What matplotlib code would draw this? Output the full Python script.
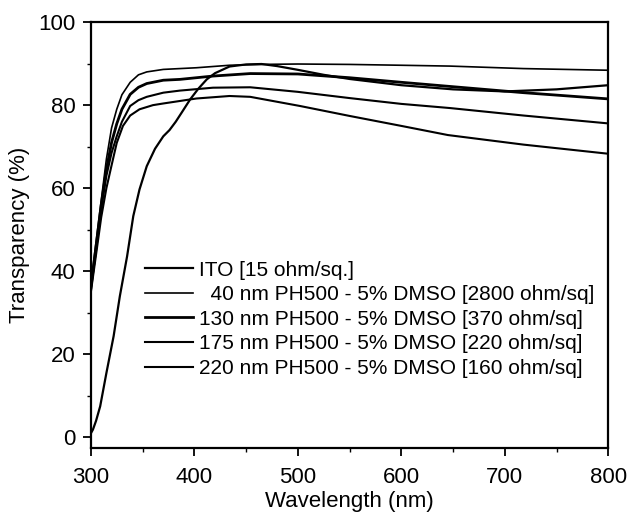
import matplotlib
matplotlib.use("Agg")
import matplotlib.pyplot as plt
from matplotlib.ticker import MultipleLocator

plt.rcParams['font.family'] = ['Liberation Sans', 'DejaVu Sans']

# values
wl_ito = [300, 302, 305, 309, 315, 322, 328, 335, 341, 347, 354, 362, 370, 376, 382, 388,
          396, 404, 412, 420, 434, 450, 465, 480, 500, 525, 550, 600, 650, 700, 750, 800]
t_ito = [1.0, 1.9, 4.0, 7.5, 15.5, 24.4, 34, 43.6, 53.3, 59.7, 65.3, 69.5, 72.5, 74, 76, 78.3,
         81.4, 84, 86.2, 87.7, 89.3, 89.8, 89.9, 89.4, 88.5, 87.3, 86.3, 84.8, 83.8, 83.3, 83.8, 84.8]

wl_40 = [300, 305, 310, 315, 320, 325, 330, 338, 346, 354, 370, 402, 434, 463,
         500, 550, 600, 647, 718, 800]
t_40 = [37, 47, 57, 67, 74.5, 79, 82.5, 85.5, 87.3, 88.0, 88.6, 89.0, 89.6, 89.8,
        89.9, 89.8, 89.6, 89.4, 88.8, 88.4]

wl_130 = [300, 305, 310, 315, 320, 325, 330, 338, 346, 354, 370, 386, 402, 418,
          454, 500, 550, 600, 647, 718, 800]
t_130 = [36, 46, 56, 64.5, 71, 75.5, 79, 82.6, 84.3, 85.2, 86.0, 86.2, 86.6, 87.0,
         87.6, 87.5, 86.6, 85.5, 84.5, 83.0, 81.5]

wl_175 = [300, 305, 310, 315, 320, 325, 330, 338, 346, 354, 370, 386, 418, 454,
          500, 550, 600, 647, 718, 800]
t_175 = [36, 45, 55, 63, 68.5, 72.5, 76, 79.8, 81.2, 82.0, 83.0, 83.5, 84.2, 84.3,
         83.2, 81.7, 80.3, 79.3, 77.5, 75.6]

wl_220 = [300, 305, 310, 315, 320, 325, 331, 338, 347, 360, 370, 386, 402, 434,
          454, 502, 550, 600, 645, 718, 800]
t_220 = [35, 44, 53, 60, 65.5, 70.9, 75, 77.5, 79, 80, 80.4, 81, 81.6, 82.2,
         82.0, 79.8, 77.4, 75.0, 72.8, 70.5, 68.3]

labels = ['ITO [15 ohm/sq.]',
          '  40 nm PH500 - 5% DMSO [2800 ohm/sq]',
          '130 nm PH500 - 5% DMSO [370 ohm/sq]',
          '175 nm PH500 - 5% DMSO [220 ohm/sq]',
          '220 nm PH500 - 5% DMSO [160 ohm/sq]']

fig = plt.figure(figsize=(6.31, 5.13), dpi=100)
ax = fig.add_axes([0.144, 0.127, 0.82, 0.83])

ax.plot(wl_ito, t_ito, color='black', lw=1.6, label=labels[0])
ax.plot(wl_40, t_40, color='black', lw=1.2, label=labels[1])
ax.plot(wl_130, t_130, color='black', lw=2.0, label=labels[2])
ax.plot(wl_175, t_175, color='black', lw=1.5, label=labels[3])
ax.plot(wl_220, t_220, color='black', lw=1.5, label=labels[4])

ax.set_xlim(300, 800)
ax.set_ylim(-2.5, 100)
ax.xaxis.set_major_locator(MultipleLocator(100))
ax.xaxis.set_minor_locator(MultipleLocator(50))
ax.yaxis.set_major_locator(MultipleLocator(20))
ax.yaxis.set_minor_locator(MultipleLocator(10))
ax.tick_params(which='major', direction='out', length=6, width=1.3, labelsize=16)
ax.tick_params(which='minor', direction='out', length=3, width=1.0)
ax.tick_params(axis='x', which='major', pad=8)
ax.tick_params(axis='y', which='major', pad=5)
for s in ax.spines.values():
    s.set_linewidth(1.6)

ax.set_xlabel('Wavelength (nm)', fontsize=16, labelpad=2)
ax.set_ylabel('Transparency (%)', fontsize=16, labelpad=6)

ax.legend(loc='upper left', bbox_to_anchor=(0.1045, 0.44), frameon=False,
          fontsize=15, borderpad=0, borderaxespad=0, labelspacing=0.27,
          handlelength=2.3, handletextpad=0.3)

fig.savefig('out.png', dpi=100)
